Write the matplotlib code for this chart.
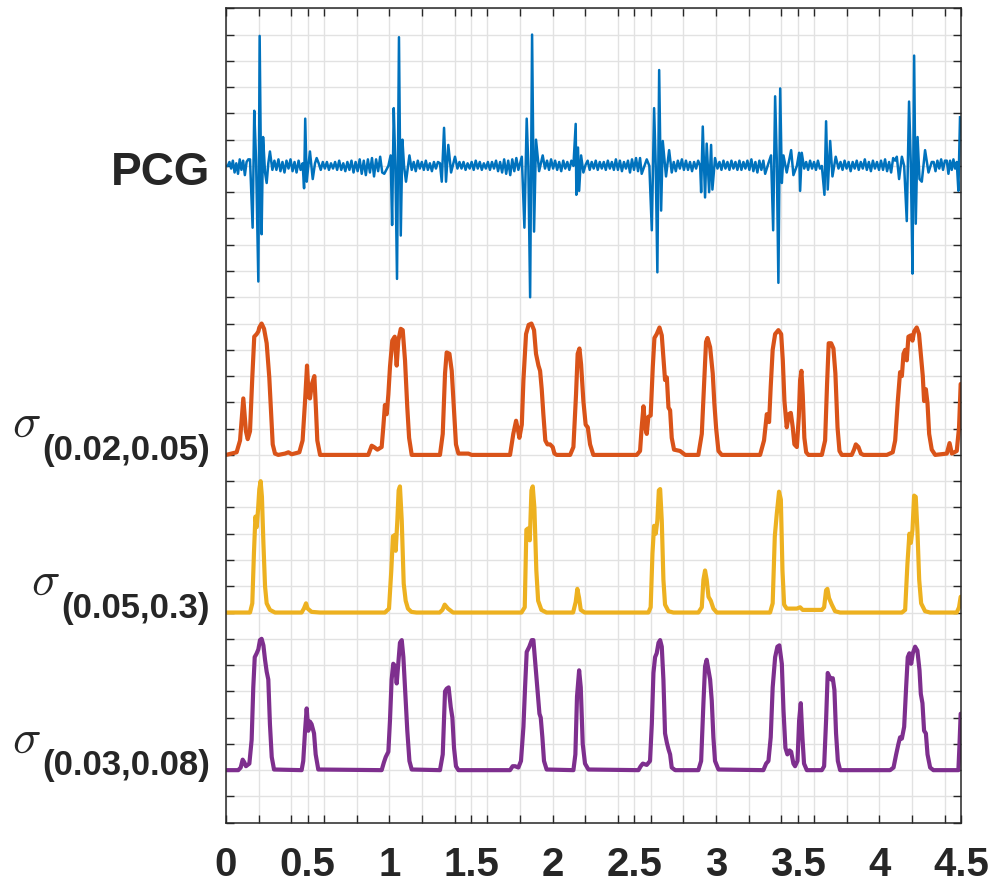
import numpy as np
import matplotlib
matplotlib.use("Agg")
import matplotlib.pyplot as plt
from matplotlib.ticker import MultipleLocator, FixedLocator

plt.rcParams['font.family'] = ['Liberation Sans', 'DejaVu Sans']
plt.rcParams['mathtext.fontset'] = 'cm'

# ---------------- data (time in s, normalized amplitude) ----------------
# PCG: spikes of the heart sounds
pcg_bursts = [
    (0.0, 0.0),
    (0.147, 0.05), (0.163, -0.47), (0.173, 0.42), (0.184, 0.05), (0.198, -0.88), (0.206, 0.99),
    (0.218, -0.52), (0.227, 0.22), (0.239, -0.05), (0.249, -0.13), (0.259, 0.02), (0.269, 0.11), (0.284, -0.03),
    (0.469, 0.02), (0.478, -0.17), (0.485, 0.36), (0.494, -0.12), (0.504, 0.0), (0.514, 0.11), (0.531, -0.10),
    (0.545, 0.02), (0.555, 0.06),
    (0.969, -0.06), (0.994, 0.0), (1.008, 0.08), (1.017, -0.45), (1.027, 0.44), (1.037, 0.0), (1.047, -0.86),
    (1.059, 0.98), (1.070, -0.53), (1.080, 0.20), (1.090, 0.0), (1.102, -0.12), (1.123, 0.08), (1.137, -0.03),
    (1.310, 0.02), (1.321, -0.12), (1.335, 0.29), (1.347, -0.12), (1.361, 0.16), (1.378, -0.05), (1.402, 0.07),
    (1.417, -0.02),
    (1.790, -0.03), (1.811, 0.07), (1.827, -0.47), (1.841, 0.36), (1.851, 0.0), (1.862, -1.0), (1.874, 1.0),
    (1.886, -0.5), (1.898, 0.2), (1.917, -0.04), (1.939, 0.08), (1.953, -0.02),
    (2.127, 0.0), (2.141, 0.32), (2.145, -0.22), (2.155, 0.14), (2.162, -0.19), (2.174, 0.08), (2.188, -0.05),
    (2.202, 0.01),
    (2.535, 0.06), (2.545, -0.06), (2.576, 0.05), (2.592, 0.0), (2.607, -0.49), (2.621, 0.44), (2.631, 0.0),
    (2.641, -0.81), (2.652, 0.73), (2.664, -0.34), (2.674, 0.19), (2.694, -0.08), (2.713, 0.12), (2.729, -0.05),
    (2.903, 0.0), (2.909, -0.2), (2.919, 0.3), (2.933, -0.24), (2.943, 0.17), (2.952, -0.05), (2.958, -0.2),
    (2.970, 0.16), (2.978, -0.18), (2.994, 0.06), (3.009, -0.02),
    (3.290, 0.04), (3.301, -0.06), (3.321, 0.02), (3.337, 0.08), (3.350, -0.49), (3.362, 0.53), (3.372, 0.05),
    (3.382, -0.89), (3.393, 0.59), (3.403, -0.13), (3.413, 0.08), (3.433, -0.05), (3.460, 0.12), (3.474, -0.07),
    (3.495, 0.0), (3.509, 0.1), (3.515, -0.19), (3.525, 0.1), (3.540, -0.02),
    (3.648, 0.0), (3.664, -0.22), (3.674, 0.34), (3.684, -0.18), (3.699, 0.19), (3.713, -0.08), (3.733, 0.07),
    (3.750, -0.02),
    (4.097, 0.04), (4.107, 0.07), (4.121, -0.1), (4.138, 0.07), (4.152, 0.0), (4.168, -0.42), (4.182, 0.49),
    (4.193, 0.0), (4.203, -0.82), (4.213, 0.84), (4.223, -0.44), (4.234, 0.22), (4.246, -0.1), (4.260, -0.12),
    (4.280, 0.12), (4.301, -0.05), (4.321, 0.03),
    (4.413, 0.04), (4.423, -0.06), (4.474, 0.03), (4.484, -0.19), (4.494, 0.37),
]

# PCG: background noise between the heart sounds (start, end, values)
pcg_noise = [
    (0.0, 0.147, [0.00, 0.03, -0.02, 0.04, -0.05, 0.02, -0.06, 0.05, -0.03, 0.04, -0.07, 0.03, 0.05]),
    (0.284, 0.469, [0.04, -0.03, 0.05, -0.04, 0.03, -0.05, 0.04, -0.02, 0.05, -0.04, 0.03, -0.05, 0.04, -0.03]),
    (0.555, 0.969, [0.02, -0.03, 0.03, -0.02, 0.03, -0.03, 0.02, -0.02, 0.03, -0.03, 0.04, -0.03, 0.02, -0.04,
                    0.03, -0.03, 0.04, -0.05, 0.03, -0.04, 0.05, -0.06, 0.04, -0.07, 0.05, -0.05, 0.06, -0.08,
                    0.05, -0.04, 0.07, -0.05]),
    (1.137, 1.310, [0.03, -0.04, 0.04, -0.02, 0.03, -0.03, 0.04, -0.03, 0.02, -0.04, 0.03, -0.02, 0.03]),
    (1.417, 1.790, [0.03, -0.02, 0.03, -0.03, 0.02, -0.02, 0.03, -0.03, 0.04, -0.02, 0.03, -0.03, 0.02, -0.02,
                    0.03, -0.03, 0.03, -0.02, 0.04, -0.04, 0.03, -0.05, 0.05, -0.06, 0.04, -0.07, 0.05, -0.04,
                    0.06]),
    (1.953, 2.127, [0.04, -0.03, 0.05, -0.02, 0.04, -0.03, 0.03, -0.04, 0.04, -0.02, 0.03, -0.03, 0.04]),
    (2.202, 2.535, [0.04, -0.03, 0.03, -0.02, 0.04, -0.03, 0.03, -0.02, 0.03, -0.03, 0.04, -0.02, 0.03, -0.03,
                    0.05, -0.03, 0.04, -0.04, 0.03, -0.02, 0.04, -0.05, 0.05, -0.03, 0.06, -0.04]),
    (2.729, 2.903, [0.03, -0.04, 0.04, -0.02, 0.05, -0.03, 0.04, -0.03, 0.03, -0.04, 0.03, -0.02, 0.04]),
    (3.009, 3.290, [0.03, -0.03, 0.04, -0.02, 0.03, -0.03, 0.04, -0.02, 0.03, -0.03, 0.04, -0.03, 0.03, -0.02,
                    0.04, -0.03, 0.05, -0.04, 0.03, -0.05, 0.04, -0.03]),
    (3.540, 3.648, [0.03, -0.03, 0.04, -0.02, 0.03, -0.03, 0.04, -0.02]),
    (3.750, 4.097, [0.03, -0.03, 0.04, -0.02, 0.03, -0.04, 0.03, -0.02, 0.04, -0.03, 0.03, -0.02, 0.05, -0.03,
                    0.03, -0.04, 0.04, -0.02, 0.03, -0.03, 0.04, -0.03, 0.05, -0.04, 0.03, -0.05, 0.06]),
    (4.321, 4.413, [0.03, -0.04, 0.04, -0.02, 0.05, -0.03, 0.04]),
    (4.423, 4.474, [0.04, -0.03, 0.05, -0.02]),
]

env_002_005 = [
    (0.0, 0), (0.065, 0.02), (0.086, 0.11), (0.106, 0.43), (0.122, 0.18), (0.133, 0.12), (0.147, 0.18),
    (0.161, 0.59), (0.173, 0.90), (0.188, 0.92), (0.198, 0.94), (0.204, 0.97), (0.218, 1.0), (0.233, 0.96),
    (0.249, 0.85), (0.265, 0.59), (0.275, 0.34), (0.286, 0.08), (0.300, 0.01), (0.320, 0), (0.361, 0.01),
    (0.382, 0.02), (0.402, 0.005), (0.449, 0.02), (0.469, 0.11), (0.484, 0.41), (0.496, 0.68), (0.506, 0.44),
    (0.514, 0.43), (0.526, 0.54), (0.541, 0.60), (0.551, 0.34), (0.559, 0.11), (0.576, 0), (0.871, 0),
    (0.892, 0.07), (0.906, 0.06), (0.927, 0.04), (0.953, 0.06), (0.963, 0.21), (0.973, 0.38), (0.984, 0.31),
    (0.994, 0.46), (1.004, 0.67), (1.018, 0.87), (1.033, 0.90), (1.045, 0.68), (1.055, 0.87), (1.070, 0.96),
    (1.082, 0.95), (1.096, 0.72), (1.110, 0.36), (1.121, 0.13), (1.137, 0), (1.310, 0), (1.327, 0.16),
    (1.341, 0.62), (1.351, 0.78), (1.368, 0.77), (1.382, 0.64), (1.396, 0.34), (1.408, 0.08), (1.423, 0.01),
    (1.484, 0.01), (1.504, 0), (1.739, 0), (1.759, 0.16), (1.776, 0.26), (1.786, 0.20), (1.796, 0.13),
    (1.811, 0.23), (1.821, 0.57), (1.837, 0.92), (1.853, 0.99), (1.870, 1.0), (1.886, 0.95), (1.898, 0.77),
    (1.913, 0.68), (1.923, 0.64), (1.933, 0.50), (1.943, 0.31), (1.955, 0.11), (1.968, 0.08), (1.984, 0.08),
    (2.000, 0.06), (2.011, 0.01), (2.025, 0), (2.107, 0), (2.127, 0.06), (2.143, 0.46), (2.153, 0.77),
    (2.164, 0.81), (2.174, 0.69), (2.188, 0.41), (2.202, 0.23), (2.215, 0.21), (2.229, 0.08), (2.249, 0),
    (2.515, 0), (2.535, 0.03), (2.545, 0.21), (2.556, 0.37), (2.566, 0.21), (2.576, 0.16), (2.586, 0.29),
    (2.600, 0.30), (2.613, 0.67), (2.623, 0.89), (2.637, 0.92), (2.654, 0.97), (2.668, 0.91), (2.678, 0.74),
    (2.688, 0.57), (2.699, 0.59), (2.709, 0.36), (2.719, 0.34), (2.729, 0.13), (2.743, 0.04), (2.780, 0.03),
    (2.811, 0), (2.892, 0), (2.913, 0.16), (2.927, 0.54), (2.939, 0.86), (2.948, 0.89), (2.964, 0.82),
    (2.980, 0.62), (2.990, 0.39), (3.001, 0.20), (3.015, 0.03), (3.035, 0), (3.270, 0), (3.294, 0.11),
    (3.311, 0.31), (3.325, 0.25), (3.335, 0.52), (3.347, 0.80), (3.362, 0.92), (3.382, 0.95), (3.399, 0.92),
    (3.409, 0.72), (3.419, 0.41), (3.433, 0.21), (3.446, 0.31), (3.458, 0.32), (3.470, 0.21), (3.480, 0.08),
    (3.495, 0.06), (3.507, 0.29), (3.515, 0.57), (3.523, 0.64), (3.531, 0.46), (3.541, 0.13), (3.552, 0.02),
    (3.566, 0), (3.648, 0), (3.668, 0.11), (3.680, 0.54), (3.690, 0.85), (3.705, 0.85), (3.719, 0.81),
    (3.731, 0.62), (3.744, 0.21), (3.756, 0.03), (3.770, 0), (3.831, 0), (3.845, 0.04), (3.856, 0.08),
    (3.872, 0.06), (3.887, 0.01), (3.903, 0), (4.046, 0), (4.082, 0.02), (4.097, 0.11), (4.113, 0.41),
    (4.127, 0.63), (4.138, 0.60), (4.148, 0.77), (4.158, 0.80), (4.168, 0.72), (4.178, 0.90), (4.193, 0.91),
    (4.203, 0.87), (4.213, 0.94), (4.229, 0.97), (4.243, 0.92), (4.256, 0.74), (4.266, 0.60), (4.274, 0.41),
    (4.285, 0.50), (4.295, 0.39), (4.305, 0.16), (4.321, 0.04), (4.342, 0), (4.413, 0.01), (4.430, 0.09),
    (4.444, 0.01), (4.474, 0.03), (4.488, 0.21), (4.498, 0.54),
]

env_005_03 = [
    (0.0, 0), (0.147, 0), (0.161, 0.07), (0.171, 0.45), (0.180, 0.73), (0.188, 0.65), (0.196, 0.78),
    (0.204, 0.94), (0.212, 1.0), (0.220, 0.88), (0.229, 0.53), (0.239, 0.20), (0.249, 0.07), (0.269, 0.02),
    (0.300, 0), (0.463, 0), (0.477, 0.03), (0.490, 0.07), (0.500, 0.03), (0.524, 0.005), (0.576, 0),
    (0.973, 0), (0.998, 0.03), (1.012, 0.32), (1.022, 0.58), (1.033, 0.59), (1.039, 0.47), (1.049, 0.70),
    (1.057, 0.93), (1.065, 0.96), (1.076, 0.70), (1.088, 0.22), (1.100, 0.09), (1.114, 0.03), (1.135, 0.005),
    (1.166, 0), (1.308, 0), (1.325, 0.02), (1.339, 0.06), (1.359, 0.03), (1.390, 0), (1.809, 0),
    (1.829, 0.04), (1.839, 0.63), (1.849, 0.64), (1.860, 0.55), (1.870, 0.93), (1.878, 0.96), (1.888, 0.80),
    (1.900, 0.32), (1.911, 0.09), (1.931, 0.02), (1.962, 0), (2.125, 0), (2.141, 0.08), (2.151, 0.18),
    (2.162, 0.11), (2.172, 0.02), (2.196, 0), (2.586, 0), (2.600, 0.04), (2.611, 0.45), (2.621, 0.66),
    (2.631, 0.60), (2.641, 0.70), (2.650, 0.93), (2.658, 0.94), (2.668, 0.70), (2.678, 0.25), (2.688, 0.06),
    (2.709, 0.01), (2.739, 0), (2.892, 0), (2.913, 0.04), (2.923, 0.25), (2.933, 0.32), (2.943, 0.25),
    (2.954, 0.12), (2.968, 0.09), (2.984, 0.03), (3.005, 0), (3.331, 0), (3.347, 0.07), (3.360, 0.58),
    (3.372, 0.75), (3.386, 0.92), (3.397, 0.86), (3.407, 0.32), (3.417, 0.06), (3.433, 0.03), (3.495, 0.03),
    (3.515, 0.04), (3.531, 0.02), (3.556, 0.02), (3.648, 0.02), (3.662, 0.04), (3.674, 0.17), (3.682, 0.18),
    (3.692, 0.11), (3.709, 0.06), (3.729, 0.01), (3.760, 0), (4.138, 0), (4.158, 0.02), (4.172, 0.37),
    (4.184, 0.60), (4.193, 0.53), (4.203, 0.63), (4.213, 0.89), (4.223, 0.88), (4.233, 0.63), (4.244, 0.25),
    (4.256, 0.07), (4.280, 0.01), (4.311, 0), (4.474, 0), (4.488, 0.04), (4.498, 0.12),
]

env_003_008 = [
    (0.0, 0), (0.075, 0), (0.090, 0.02), (0.102, 0.08), (0.112, 0.06), (0.122, 0.03), (0.143, 0.05),
    (0.157, 0.23), (0.167, 0.63), (0.176, 0.86), (0.188, 0.89), (0.198, 0.92), (0.208, 0.99), (0.218, 1.0),
    (0.229, 0.95), (0.239, 0.84), (0.249, 0.75), (0.259, 0.69), (0.269, 0.35), (0.280, 0.10), (0.294, 0.005),
    (0.463, 0), (0.473, 0.07), (0.484, 0.30), (0.494, 0.47), (0.504, 0.30), (0.514, 0.37), (0.524, 0.35),
    (0.539, 0.28), (0.549, 0.12), (0.565, 0.005), (0.953, 0), (0.967, 0.06), (0.978, 0.10), (0.994, 0.14),
    (1.004, 0.38), (1.014, 0.69), (1.024, 0.81), (1.037, 0.79), (1.045, 0.66), (1.055, 0.81), (1.065, 0.97),
    (1.076, 0.99), (1.086, 0.86), (1.096, 0.63), (1.110, 0.30), (1.123, 0.07), (1.137, 0.005), (1.310, 0),
    (1.327, 0.12), (1.341, 0.60), (1.351, 0.62), (1.363, 0.63), (1.376, 0.48), (1.386, 0.40), (1.396, 0.17),
    (1.408, 0.03), (1.423, 0), (1.739, 0), (1.755, 0.03), (1.770, 0.03), (1.790, 0.02), (1.806, 0.07),
    (1.821, 0.33), (1.831, 0.63), (1.841, 0.90), (1.857, 0.94), (1.872, 0.99), (1.882, 0.99), (1.892, 0.84),
    (1.906, 0.63), (1.919, 0.43), (1.927, 0.40), (1.937, 0.25), (1.947, 0.07), (1.963, 0.005), (2.127, 0),
    (2.139, 0.12), (2.149, 0.56), (2.162, 0.76), (2.172, 0.63), (2.184, 0.20), (2.198, 0.05), (2.219, 0.005),
    (2.525, 0), (2.539, 0.03), (2.552, 0.05), (2.576, 0.04), (2.596, 0.07), (2.607, 0.35), (2.617, 0.74),
    (2.627, 0.86), (2.637, 0.89), (2.648, 0.97), (2.658, 0.99), (2.668, 0.94), (2.678, 0.69), (2.688, 0.28),
    (2.699, 0.21), (2.709, 0.16), (2.719, 0.12), (2.729, 0.02), (2.750, 0), (2.892, 0), (2.909, 0.07),
    (2.923, 0.51), (2.933, 0.79), (2.943, 0.84), (2.954, 0.76), (2.964, 0.69), (2.974, 0.53), (2.984, 0.25),
    (2.994, 0.07), (3.015, 0.005), (3.290, 0), (3.307, 0.05), (3.321, 0.07), (3.335, 0.25), (3.347, 0.63),
    (3.362, 0.86), (3.376, 0.94), (3.388, 0.95), (3.403, 0.81), (3.413, 0.46), (3.425, 0.17), (3.437, 0.12),
    (3.450, 0.15), (3.460, 0.14), (3.474, 0.05), (3.484, 0.03), (3.499, 0.07), (3.509, 0.38), (3.519, 0.51),
    (3.529, 0.25), (3.539, 0.05), (3.556, 0), (3.648, 0), (3.662, 0.03), (3.674, 0.38), (3.684, 0.74),
    (3.695, 0.71), (3.705, 0.69), (3.715, 0.70), (3.725, 0.61), (3.735, 0.28), (3.746, 0.07), (3.760, 0),
    (4.066, 0), (4.087, 0.02), (4.103, 0.12), (4.117, 0.20), (4.127, 0.25), (4.138, 0.24), (4.152, 0.33),
    (4.164, 0.63), (4.174, 0.86), (4.184, 0.89), (4.195, 0.81), (4.205, 0.89), (4.219, 0.94), (4.233, 0.91),
    (4.246, 0.76), (4.254, 0.58), (4.264, 0.51), (4.274, 0.30), (4.285, 0.28), (4.295, 0.12), (4.311, 0.02),
    (4.331, 0), (4.484, 0), (4.490, 0.17), (4.498, 0.43),
]

row_offset = [25, 14, 8, 2]          # vertical position of each trace
row_gain = 5                          # height of a normalized unit
row_colors = ['#0072BD', '#D95319', '#EDB120', '#7E2F8E']
row_subscripts = [None, '(0.02,0.05)', '(0.05,0.3)', '(0.03,0.08)']
x_major = [0, 0.5, 1, 1.5, 2, 2.5, 3, 3.5, 4, 4.5]
x_labels = ['0', '0.5', '1', '1.5', '2', '2.5', '3', '3.5', '4', '4.5']
x_minor = [round(0.2 * i, 1) for i in range(23)]

# ---------------- assemble PCG ----------------
pts = list(pcg_bursts)
for t0, t1, vals in pcg_noise:
    ts = np.linspace(t0, t1, len(vals) + 2)[1:-1]
    pts += list(zip(ts, vals))
pts.sort(key=lambda p: p[0])
pcg = np.array(pts)

# ---------------- figure ----------------
fig = plt.figure(figsize=(9.96, 8.86), dpi=100)
ax = fig.add_axes([226 / 996, 1 - 822.7 / 886, (961 - 226) / 996, (822.7 - 8.3) / 886])

dark = '#262626'
ax.plot(pcg[:, 0], row_offset[0] + row_gain * pcg[:, 1], color=row_colors[0], lw=1.8,
        solid_joinstyle='round')
for data, off, col in zip([env_002_005, env_005_03, env_003_008], row_offset[1:], row_colors[1:]):
    a = np.array(data, dtype=float)
    ax.plot(a[:, 0], off + row_gain * a[:, 1], color=col, lw=3.0,
            solid_joinstyle='round', solid_capstyle='round')

ax.set_xlim(0, 4.5)
ax.set_ylim(0, 31)
ax.xaxis.set_major_locator(FixedLocator(x_major))
ax.xaxis.set_minor_locator(FixedLocator(x_minor))
ax.set_xticklabels(x_labels)
ax.yaxis.set_major_locator(MultipleLocator(1))
ax.tick_params(axis='both', which='both', direction='in', length=5.8, width=1.0, color=dark,
               top=True, right=True)
ax.tick_params(axis='y', labelleft=False)
ax.tick_params(axis='x', which='major', labelsize=29, pad=17.0, labelcolor=dark)
for lab in ax.get_xticklabels():
    lab.set_fontweight('bold')
ax.grid(True, which='both', color='#e2e2e2', lw=1.0)
ax.set_axisbelow(True)
for s in ax.spines.values():
    s.set_color(dark)
    s.set_linewidth(1.1)

# y labels
ax.annotate('PCG', xy=(0, row_offset[0]), xycoords=('axes fraction', 'data'),
            xytext=(-11.5, -13.7), textcoords='offset points', ha='right', va='baseline',
            fontsize=33, fontweight='bold', color=dark)

fig.canvas.draw()
renderer = fig.canvas.get_renderer()
for off, sub in zip(row_offset[1:], row_subscripts[1:]):
    t = ax.annotate(sub, xy=(0, off), xycoords=('axes fraction', 'data'),
                    xytext=(-11.5, -3.8), textcoords='offset points', ha='right', va='baseline',
                    fontsize=25, fontweight='bold', color=dark)
    w_pt = t.get_window_extent(renderer).width * 72 / fig.dpi
    ax.annotate(r'$\sigma$', xy=(0, off), xycoords=('axes fraction', 'data'),
                xytext=(-11.5 - w_pt - 1.0, 12.7), textcoords='offset points', ha='right',
                va='baseline', fontsize=34, color=dark)

fig.savefig('out.png', dpi=100)
